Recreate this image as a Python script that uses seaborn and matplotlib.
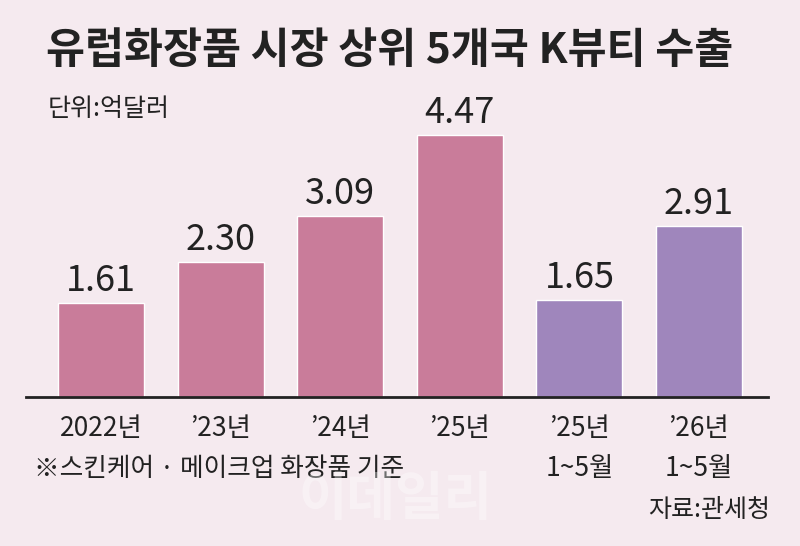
import numpy as np
import pandas as pd
import matplotlib
matplotlib.use("Agg")
import matplotlib.pyplot as plt
import seaborn as sns

# data
labels = ["2022년", "’23년", "’24년", "’25년", "’25년\n1~5월", "’26년\n1~5월"]
values = [1.61, 2.30, 3.09, 4.47, 1.65, 2.91]
kind = ["year", "year", "year", "year", "partial", "partial"]

bg = "#F5EAEF"
palette = {"year": "#C97C9A", "partial": "#9F86BC"}

sns.set_theme(style="white")
plt.rcParams["font.family"] = ["Noto Sans CJK KR", "DejaVu Sans"]

df = pd.DataFrame({"label": labels, "value": values, "kind": kind})

fig = plt.figure(figsize=(8, 5.46), dpi=100, facecolor=bg)
ax = fig.add_axes([26 / 800, 1 - 397 / 546, (768 - 26) / 800, 277 / 546])
ax.set_facecolor(bg)

sns.barplot(data=df, x="label", y="value", hue="kind", palette=palette,
            width=0.72, dodge=False, legend=False, ax=ax, saturation=1)

for i, v in enumerate(values):
    ax.text(i, v + 0.07, f"{v:.2f}", ha="center", va="bottom",
            fontsize=26, color="#222222")

ax.set_xlim(-0.627, 5.577)
ax.set_ylim(0, 4.727)
ax.set_xlabel("")
ax.set_ylabel("")
ax.set_yticks([])
ax.set_xticks(range(len(labels)))
ax.set_xticklabels(labels, fontsize=19, color="#222222", linespacing=1.6, va="top")
ax.tick_params(axis="x", length=0, pad=13)
for s in ["top", "right", "left"]:
    ax.spines[s].set_visible(False)
ax.spines["bottom"].set_color("#222222")
ax.spines["bottom"].set_linewidth(2)

fig.text(46 / 800, 1 - 51 / 546, "유럽화장품 시장 상위 5개국 K뷰티 수출",
         fontsize=30.5, fontweight="bold", color="#222222", va="center", ha="left")
fig.text(48 / 800, 1 - 109 / 546, "단위:억달러", fontsize=18,
         color="#222222", va="center", ha="left")
fig.text(34 / 800, 1 - 469 / 546, "※스킨케어 · 메이크업 화장품 기준", fontsize=18.5,
         color="#222222", va="center", ha="left")
fig.text(770 / 800, 1 - 510 / 546, "자료:관세청", fontsize=18,
         color="#222222", va="center", ha="right")
fig.text(395 / 800, 1 - 500 / 546, "이데일리", fontsize=38, fontweight="bold",
         color="white", alpha=0.35, va="center", ha="center")

fig.savefig("out.png", dpi=100, facecolor=bg)
